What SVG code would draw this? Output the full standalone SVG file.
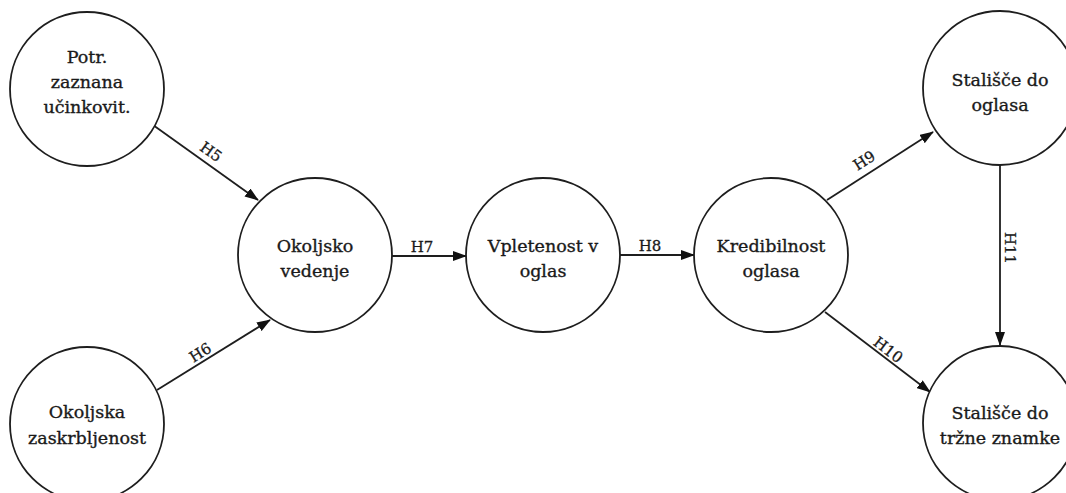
<svg xmlns="http://www.w3.org/2000/svg" width="1066" height="493" viewBox="0 0 1066 493">
  <style>
    .node circle { fill: #ffffff; stroke: #1e1e1e; stroke-width: 1.8; }
    .node text { font-family: "DejaVu Serif", "Liberation Serif", serif; font-size: 17.5px; fill: #1a1a1a; stroke: #1a1a1a; stroke-width: 0.35; text-anchor: middle; }
    .edge line { stroke: #1e1e1e; stroke-width: 1.8; marker-end: url(#arrow); }
    .lbl { font-family: "DejaVu Serif", "Liberation Serif", serif; font-size: 15px; fill: #1a1a1a; stroke: #1a1a1a; stroke-width: 0.3; text-anchor: middle; }
  </style>
  <defs>
    <marker id="arrow" markerUnits="userSpaceOnUse" markerWidth="14" markerHeight="10" refX="13" refY="5" orient="auto">
      <path d="M0,0 L14,5 L0,10 Z" fill="#111111"/>
    </marker>
  </defs>
  <rect width="1066" height="493" fill="#ffffff"/>

  <!-- connectors and their hypothesis labels -->
  <g id="connectors" class="edge">
    <line x1="153" y1="125" x2="258" y2="200"/>
    <line x1="157" y1="390" x2="270" y2="320"/>
    <line x1="392" y1="256" x2="466" y2="256"/>
    <line x1="620" y1="255" x2="694" y2="255"/>
    <line x1="827" y1="200" x2="933" y2="132"/>
    <line x1="825" y1="312" x2="930" y2="392"/>
    <line x1="1000" y1="165" x2="1000" y2="345"/>
    <text class="lbl" transform="translate(208,156) rotate(35.5)">H5</text>
    <text class="lbl" transform="translate(203,357) rotate(-31.8)">H6</text>
    <text class="lbl" x="422" y="252">H7</text>
    <text class="lbl" x="650" y="251">H8</text>
    <text class="lbl" transform="translate(867,165) rotate(-32.7)">H9</text>
    <text class="lbl" transform="translate(885,354) rotate(37)">H10</text>
    <text class="lbl" transform="translate(1005,248) rotate(90)">H11</text>
  </g>

  <g id="potr-zaznana-ucinkovitost" class="node">
    <circle cx="87" cy="89" r="77"/>
    <text x="87" y="63">Potr.</text>
    <text x="87" y="88">zaznana</text>
    <text x="87" y="113">učinkovit.</text>
  </g>
  <g id="okoljska-zaskrbljenost" class="node">
    <circle cx="87" cy="424" r="77"/>
    <text x="87" y="418">Okoljska</text>
    <text x="87" y="444">zaskrbljenost</text>
  </g>
  <g id="okoljsko-vedenje" class="node">
    <circle cx="315" cy="255" r="77"/>
    <text x="315" y="252">Okoljsko</text>
    <text x="315" y="277">vedenje</text>
  </g>
  <g id="vpletenost-v-oglas" class="node">
    <circle cx="543" cy="255" r="77"/>
    <text x="543" y="252">Vpletenost v</text>
    <text x="543" y="277">oglas</text>
  </g>
  <g id="kredibilnost-oglasa" class="node">
    <circle cx="771" cy="255" r="77"/>
    <text x="771" y="252">Kredibilnost</text>
    <text x="771" y="277">oglasa</text>
  </g>
  <g id="stalisce-do-oglasa" class="node">
    <circle cx="1000" cy="88" r="77"/>
    <text x="1000" y="86">Stališče do</text>
    <text x="1000" y="111">oglasa</text>
  </g>
  <g id="stalisce-do-trzne-znamke" class="node">
    <circle cx="1000" cy="423" r="77"/>
    <text x="1000" y="419">Stališče do</text>
    <text x="1000" y="444">tržne znamke</text>
  </g>
</svg>
